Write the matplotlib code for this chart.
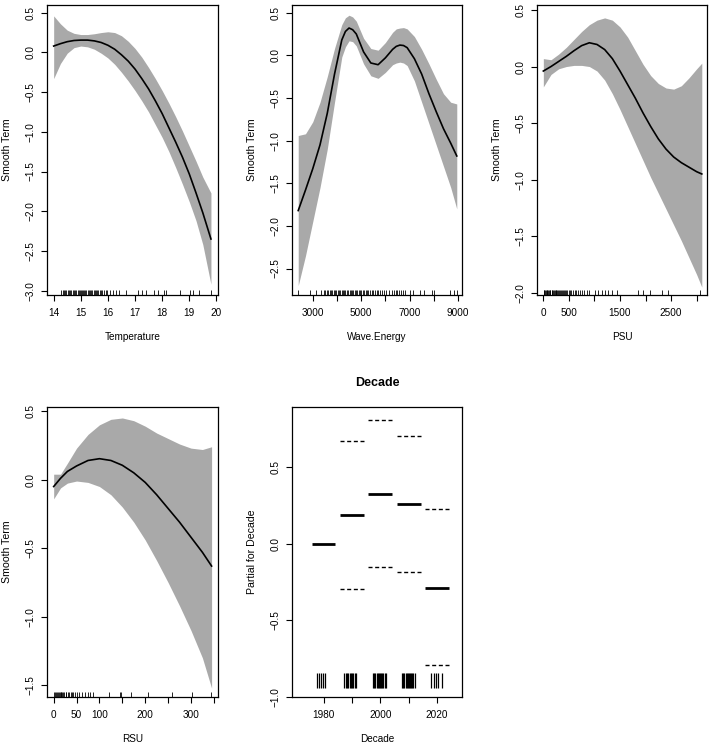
"""GAM partial effects (mgcv plot.gam look): four smooth terms + the Decade factor term."""
import matplotlib
matplotlib.use("Agg")
import matplotlib.pyplot as plt

plt.rcParams["font.family"] = ["Liberation Sans", "DejaVu Sans"]

W, H = 709, 747          # output size in px (dpi 100)
BAND = "#a9a9a9"
FS = 7.2

# ---- Temperature
TEMP_X = [14.0, 14.25, 14.5, 14.75, 15.0, 15.25, 15.5, 15.75, 16.0, 16.25, 16.5, 16.75,
          17.0, 17.25, 17.5, 17.75, 18.0, 18.25, 18.5, 18.75, 19.0, 19.25, 19.5, 19.8]
TEMP_FIT = [0.08, 0.11, 0.135, 0.15, 0.155, 0.155, 0.145, 0.125, 0.09, 0.04, -0.03, -0.11,
            -0.21, -0.33, -0.46, -0.61, -0.77, -0.95, -1.13, -1.32, -1.53, -1.77, -2.02, -2.35]
TEMP_HI = [0.46, 0.36, 0.28, 0.24, 0.225, 0.225, 0.235, 0.25, 0.26, 0.25, 0.21, 0.14,
           0.05, -0.06, -0.19, -0.33, -0.48, -0.64, -0.81, -0.99, -1.18, -1.37, -1.57, -1.77]
TEMP_LO = [-0.33, -0.14, -0.01, 0.06, 0.08, 0.07, 0.04, -0.01, -0.07, -0.15, -0.25, -0.36,
           -0.48, -0.61, -0.75, -0.91, -1.07, -1.25, -1.45, -1.66, -1.88, -2.12, -2.42, -2.92]
TEMP_RUG = [14.27, 14.33, 14.38, 14.42, 14.47, 14.52, 14.55, 14.6, 14.65, 14.7, 14.74, 14.78,
            14.83, 14.88, 14.92, 14.96, 15.0, 15.04, 15.08, 15.12, 15.17, 15.21, 15.25, 15.3,
            15.34, 15.38, 15.42, 15.47, 15.52, 15.56, 15.6, 15.65, 15.7, 15.75, 15.8, 15.86,
            15.92, 15.97, 16.07, 16.17, 16.29, 16.41, 16.65, 17.11, 17.25, 17.39, 17.7, 17.86,
            18.07, 18.13, 18.65, 19.02, 19.12, 19.37, 19.82]

# ---- Wave.Energy
WAVE_X = [2400, 2700, 3000, 3300, 3600, 3900, 4200, 4350, 4500, 4650, 4800, 5100, 5400,
          5700, 6000, 6300, 6450, 6600, 6750, 6900, 7200, 7500, 7800, 8100, 8400, 8700, 8950]
WAVE_FIT = [-1.82, -1.58, -1.33, -1.05, -0.68, -0.22, 0.18, 0.28, 0.32, 0.30, 0.25, 0.04,
            -0.09, -0.11, -0.03, 0.07, 0.105, 0.12, 0.115, 0.09, -0.04, -0.22, -0.45, -0.66,
            -0.86, -1.03, -1.18]
WAVE_HI = [-0.94, -0.92, -0.78, -0.55, -0.25, 0.08, 0.36, 0.44, 0.47, 0.45, 0.40, 0.2,
           0.08, 0.06, 0.15, 0.27, 0.31, 0.32, 0.325, 0.31, 0.22, 0.07, -0.1, -0.28, -0.45,
           -0.55, -0.57]
WAVE_LO = [-2.7, -2.35, -1.95, -1.55, -1.1, -0.55, -0.02, 0.1, 0.17, 0.16, 0.11, -0.1,
           -0.24, -0.27, -0.2, -0.11, -0.09, -0.08, -0.09, -0.12, -0.3, -0.55, -0.8, -1.05,
           -1.3, -1.55, -1.8]
WAVE_RUG = [2400, 2900, 3120, 3360, 3450, 3520, 3580, 3650, 3700, 3760, 3810, 3870, 3920,
            3980, 4030, 4090, 4140, 4200, 4250, 4300, 4350, 4410, 4460, 4520, 4570, 4620,
            4680, 4730, 4790, 4840, 4900, 4950, 5010, 5060, 5120, 5180, 5240, 5300, 5370,
            5430, 5500, 5560, 5640, 5700, 5780, 5850, 5930, 6010, 6150, 6280, 6350, 6420,
            6480, 6560, 6650, 6720, 6800, 7020, 7130, 7440, 7580, 7920, 8020, 8680, 8850,
            8980]

# ---- PSU
PSU_X = [0, 150, 300, 450, 600, 750, 900, 1050, 1200, 1350, 1500, 1650, 1800, 1950,
         2100, 2250, 2400, 2550, 2700, 2850, 3000, 3100]
PSU_FIT = [-0.04, 0.0, 0.045, 0.09, 0.14, 0.185, 0.21, 0.195, 0.15, 0.07, -0.04, -0.16,
           -0.28, -0.41, -0.53, -0.64, -0.73, -0.8, -0.85, -0.89, -0.93, -0.95]
PSU_HI = [0.07, 0.06, 0.11, 0.17, 0.24, 0.31, 0.37, 0.41, 0.43, 0.41, 0.35, 0.26, 0.14,
          0.02, -0.08, -0.15, -0.19, -0.2, -0.17, -0.1, -0.02, 0.03]
PSU_LO = [-0.18, -0.07, -0.02, 0.0, 0.01, 0.01, 0.0, -0.04, -0.12, -0.24, -0.38, -0.53,
          -0.68, -0.83, -0.98, -1.12, -1.26, -1.4, -1.54, -1.69, -1.84, -1.95]
PSU_RUG = [5, 20, 35, 50, 65, 80, 95, 110, 125, 140, 160, 175, 190, 205, 220, 240, 255,
           270, 290, 305, 320, 340, 360, 380, 400, 420, 445, 470, 495, 520, 550, 580, 610,
           640, 680, 720, 766, 805, 850, 896, 1013, 1078, 1143, 1208, 1273, 1338, 1435,
           1857, 1955, 2084, 2312, 2442, 3071]

# ---- RSU
RSU_X = [0, 15, 30, 50, 75, 100, 125, 150, 175, 200, 225, 250, 275, 300, 325, 345]
RSU_FIT = [-0.05, 0.01, 0.06, 0.10, 0.14, 0.153, 0.14, 0.105, 0.05, -0.02, -0.11, -0.21,
           -0.31, -0.42, -0.53, -0.63]
RSU_HI = [0.04, 0.04, 0.12, 0.23, 0.33, 0.40, 0.44, 0.45, 0.43, 0.39, 0.34, 0.30, 0.26,
          0.23, 0.22, 0.24]
RSU_LO = [-0.14, -0.06, -0.025, -0.01, -0.02, -0.05, -0.11, -0.2, -0.31, -0.44, -0.59,
          -0.75, -0.92, -1.1, -1.3, -1.52]
RSU_RUG = [1, 3, 5, 7, 9, 11, 13, 15, 17, 19, 21, 23, 26, 28, 31, 34, 37, 40, 43, 47, 51,
           55, 62, 69, 76, 80, 86, 121, 144, 148, 170, 205, 259, 303, 344]

# ---- Decade (parametric factor term)
DECADES = [1980, 1990, 2000, 2010, 2020]
DEC_FIT = [0.0, 0.189, 0.329, 0.259, -0.285]
DEC_HI = [0.671, 0.811, 0.706, 0.228]      # levels 2..5 (1980 is the reference)
DEC_LO = [-0.294, -0.151, -0.186, -0.794]
DEC_RUG = [1977.8, 1978.5, 1979.2, 1979.8, 1980.5,
           1987.2, 1987.8, 1988.3, 1988.6, 1989.4, 1989.8, 1990.2, 1990.5, 1991.0, 1991.6,
           1997.5, 1997.9, 1998.3, 1998.7, 1999.1, 1999.5, 1999.9, 2000.3, 2000.7, 2001.1,
           2001.5, 2001.9,
           2007.7, 2008.1, 2008.5, 2008.9, 2009.3, 2009.7, 2010.1, 2010.5, 2010.9, 2011.3,
           2011.7, 2012.2,
           2018.0, 2018.8, 2019.7, 2020.5, 2021.6]


def px_axes(fig, x0, y0, x1, y1):
    return fig.add_axes([x0 / W, 1 - y1 / H, (x1 - x0) / W, (y1 - y0) / H])


def style(ax, xlim, ylim, xticks, xlabels, yticks, xlabel, ylabel):
    ax.set_xlim(*xlim)
    ax.set_ylim(*ylim)
    ax.set_xticks(xticks)
    ax.set_xticklabels(xlabels)
    ax.set_yticks(yticks)
    ax.set_yticklabels([f"{v:.1f}".replace("-", "\u2212") for v in yticks],
                       rotation=90, va="center")
    ax.tick_params(direction="out", length=4.3, width=0.8, labelsize=FS)
    ax.tick_params(axis="x", pad=5.0)
    ax.tick_params(axis="y", pad=4.0)
    for s in ax.spines.values():
        s.set_linewidth(0.9)
    ax.set_xlabel(xlabel, fontsize=FS)
    ax.set_ylabel(ylabel, fontsize=7.6)
    ax.xaxis.set_label_coords(0.5, -0.128)
    ax.yaxis.set_label_coords(-0.205, 0.5)


def smooth_panel(ax, x, fit, lo, hi, rug, ylim):
    ax.fill_between(x, lo, hi, color=BAND, lw=0)
    ax.plot(x, fit, color="black", lw=1.2)
    ax.vlines(rug, ylim[0], ylim[0] + 0.017 * (ylim[1] - ylim[0]), color="black", lw=0.6)


def main():
    fig = plt.figure(figsize=(W / 100, H / 100), dpi=100)

    ax = px_axes(fig, 47, 5, 218, 295)
    yl = (-3.055, 0.597)
    smooth_panel(ax, TEMP_X, TEMP_FIT, TEMP_LO, TEMP_HI, TEMP_RUG, yl)
    style(ax, (13.754, 20.06), yl, [14, 15, 16, 17, 18, 19, 20],
          ["14", "15", "16", "17", "18", "19", "20"],
          [0.5, 0.0, -0.5, -1.0, -1.5, -2.0, -2.5, -3.0], "Temperature", "Smooth Term")

    ax = px_axes(fig, 292, 5, 462, 295)
    yl = (-2.81, 0.59)
    smooth_panel(ax, WAVE_X, WAVE_FIT, WAVE_LO, WAVE_HI, WAVE_RUG, yl)
    style(ax, (2143, 9166), yl, [3000, 4000, 5000, 6000, 7000, 8000, 9000],
          ["3000", "", "5000", "", "7000", "", "9000"],
          [0.5, 0.0, -0.5, -1.0, -1.5, -2.0, -2.5], "Wave.Energy", "Smooth Term")

    ax = px_axes(fig, 537, 5, 707, 295)
    yl = (-2.02, 0.544)
    smooth_panel(ax, PSU_X, PSU_FIT, PSU_LO, PSU_HI, PSU_RUG, yl)
    style(ax, (-124, 3202), yl, [0, 500, 1000, 1500, 2000, 2500, 3000],
          ["0", "500", "", "1500", "", "2500", ""],
          [0.5, 0.0, -0.5, -1.0, -1.5, -2.0], "PSU", "Smooth Term")

    ax = px_axes(fig, 47, 407, 218, 697)
    yl = (-1.585, 0.53)
    smooth_panel(ax, RSU_X, RSU_FIT, RSU_LO, RSU_HI, RSU_RUG, yl)
    style(ax, (-14.6, 359), yl, [0, 50, 100, 150, 200, 250, 300, 350],
          ["0", "50", "100", "", "200", "", "300", ""],
          [0.5, 0.0, -0.5, -1.0, -1.5], "RSU", "Smooth Term")

    # Decade: termplot-style factor effect with +/- 2 se dashes
    ax = px_axes(fig, 292, 407, 462, 697)
    yl = (-1.0, 0.895)
    ax.hlines(DEC_FIT, [d - 4.2 for d in DECADES], [d + 4.2 for d in DECADES],
              color="black", lw=2.0)
    lev = DECADES[1:]
    for band in (DEC_HI, DEC_LO):
        ax.hlines(band, [d - 4.2 for d in lev], [d + 4.2 for d in lev],
                  color="black", lw=1.0, linestyles=(0, (2.9, 1.9)))
    ax.vlines(DEC_RUG, -0.941, -0.842, color="black", lw=0.9)
    style(ax, (1968.9, 2028.8), yl, DECADES, ["1980", "", "2000", "", "2020"],
          [0.5, 0.0, -0.5, -1.0], "Decade", "Partial for Decade")
    ax.set_title("Decade", fontsize=9, fontweight="bold", y=1.045)

    fig.savefig("out.png", dpi=100)
    plt.close(fig)


if __name__ == "__main__":
    main()
